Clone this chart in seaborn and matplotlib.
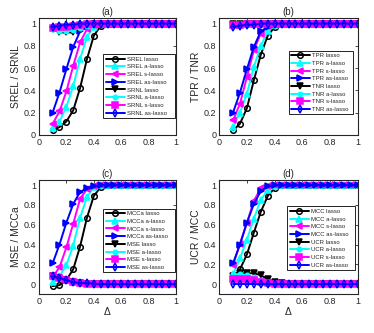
import numpy as np
import pandas as pd
import matplotlib
matplotlib.use("Agg")
import matplotlib.pyplot as plt
import seaborn as sns

# -----------------------------
# DATA
# -----------------------------
delta = [0.1, 0.15, 0.2, 0.25, 0.3, 0.35, 0.4, 0.45, 0.5, 0.55,
         0.6, 0.65, 0.7, 0.75, 0.8, 0.85, 0.9, 0.95, 1.0]
methods = ["lasso", "a-lasso", "s-lasso", "as-lasso"]

def tail(vals):
    # values keep at 1 (or 0) after the listed ones
    return vals + [vals[-1]] * (19 - len(vals))

srel_lasso = tail([0.04, 0.07, 0.12, 0.22, 0.42, 0.68, 0.89, 0.98, 1.0])
srel_alasso = tail([0.06, 0.12, 0.25, 0.44, 0.68, 0.88, 0.97, 1.0])
srel_slasso = tail([0.10, 0.21, 0.39, 0.62, 0.83, 0.95, 0.99, 1.0])
srel_aslasso = tail([0.20, 0.38, 0.59, 0.79, 0.93, 0.98, 1.0])
srnl_lasso = tail([0.95, 0.92, 0.92, 0.92, 0.95, 0.98, 1.0])
srnl_alasso = tail([0.95, 0.93, 0.93, 0.94, 0.96, 0.98, 1.0])
srnl_slasso = tail([0.96, 0.97, 0.97, 0.98, 0.99, 1.0])
srnl_aslasso = tail([0.97, 0.98, 0.99, 0.99, 1.0])

tpr_lasso = tail([0.04, 0.10, 0.24, 0.49, 0.72, 0.89, 0.97, 1.0])
tpr_alasso = tail([0.07, 0.20, 0.37, 0.61, 0.80, 0.93, 0.99, 1.0])
tpr_slasso = tail([0.13, 0.28, 0.52, 0.76, 0.91, 0.98, 1.0])
tpr_aslasso = tail([0.20, 0.38, 0.59, 0.79, 0.93, 0.97, 1.0])
tnr_lasso = tail([1.0])
tnr_alasso = tail([0.99, 0.99, 1.0])
tnr_slasso = tail([0.99, 0.99, 0.995, 1.0])
tnr_aslasso = tail([0.97, 0.98, 0.99, 0.99, 1.0])

mcca_lasso = tail([-0.02, -0.01, 0.04, 0.15, 0.38, 0.67, 0.89, 0.98, 1.0])
mcca_alasso = tail([0.02, 0.08, 0.19, 0.39, 0.67, 0.88, 0.98, 1.0])
mcca_slasso = tail([0.07, 0.17, 0.37, 0.61, 0.86, 0.96, 0.99, 1.0])
mcca_aslasso = tail([0.21, 0.40, 0.62, 0.81, 0.93, 0.97, 0.99, 1.0])
mse_lasso = tail([0.08, 0.06, 0.04, 0.02, 0.01, 0.005, 0.0])
mse_alasso = tail([0.07, 0.06, 0.04, 0.02, 0.01, 0.005, 0.0])
mse_slasso = tail([0.08, 0.06, 0.04, 0.02, 0.01, 0.005, 0.0])
mse_aslasso = tail([0.08, 0.06, 0.04, 0.02, 0.01, 0.01, 0.005, 0.0])

mcc_lasso = tail([0.07, 0.15, 0.30, 0.52, 0.73, 0.89, 0.97, 1.0])
mcc_alasso = tail([0.10, 0.26, 0.45, 0.66, 0.85, 0.95, 0.99, 1.0])
mcc_slasso = tail([0.19, 0.41, 0.62, 0.84, 0.97, 0.99, 1.0])
mcc_aslasso = tail([0.21, 0.40, 0.62, 0.81, 0.94, 0.99, 1.0])
ucr_lasso = tail([0.08, 0.11, 0.11, 0.11, 0.09, 0.05, 0.02, 0.01, 0.0])
ucr_alasso = tail([0.10, 0.10, 0.09, 0.07, 0.04, 0.02, 0.01, 0.0])
ucr_slasso = tail([0.05, 0.05, 0.05, 0.04, 0.02, 0.01, 0.0])
ucr_aslasso = tail([0.0])

panels = [
    ("(a)", "SREL / SRNL", ("SREL", "SRNL"),
     [srel_lasso, srel_alasso, srel_slasso, srel_aslasso],
     [srnl_lasso, srnl_alasso, srnl_slasso, srnl_aslasso]),
    ("(b)", "TPR / TNR", ("TPR", "TNR"),
     [tpr_lasso, tpr_alasso, tpr_slasso, tpr_aslasso],
     [tnr_lasso, tnr_alasso, tnr_slasso, tnr_aslasso]),
    ("(c)", "MSE / MCCa", ("MCCa", "MSE"),
     [mcca_lasso, mcca_alasso, mcca_slasso, mcca_aslasso],
     [mse_lasso, mse_alasso, mse_slasso, mse_aslasso]),
    ("(d)", "UCR / MCC", ("MCC", "UCR"),
     [mcc_lasso, mcc_alasso, mcc_slasso, mcc_aslasso],
     [ucr_lasso, ucr_alasso, ucr_slasso, ucr_aslasso]),
]

# -----------------------------
# STYLE
# -----------------------------
sns.set_style("white")
plt.rcParams["font.family"] = ["Liberation Sans", "DejaVu Sans"]

colors = ["black", "#00FFFF", "#FF00FF", "#0000FF"]
marks1 = ["o", "^", "<", ">"]
marks2 = ["v", ".", "s", "d"]

fig = plt.figure(figsize=(3.74, 3.33), dpi=100)
rects = [
    [0.104, 0.595, 0.367, 0.351],
    [0.586, 0.595, 0.371, 0.351],
    [0.104, 0.117, 0.367, 0.342],
    [0.586, 0.117, 0.371, 0.342],
]
legend_box = [
    (0.47, 0.69, 0.525, 0.0),
    (0.50, 0.72, 0.465, 0.0),
    (0.47, 0.75, 0.525, 0.0),
    (0.49, 0.77, 0.49, 0.0),
]

for k, (title, ylab, names, first, second) in enumerate(panels):
    ax = fig.add_axes(rects[k])
    for i, m in enumerate(methods):
        df = pd.DataFrame({"x": delta, "y": first[i]})
        sns.lineplot(data=df, x="x", y="y", ax=ax, color=colors[i],
                     marker=marks1[i], markersize=4, linewidth=1.4,
                     markerfacecolor=("none" if marks1[i] == "o" else colors[i]),
                     markeredgecolor=colors[i], markeredgewidth=1.1,
                     label=f"{names[0]} {m}")
    for i, m in enumerate(methods):
        df = pd.DataFrame({"x": delta, "y": second[i]})
        sns.lineplot(data=df, x="x", y="y", ax=ax, color=colors[i],
                     marker=marks2[i], markersize=(6.5 if marks2[i] == "." else 4),
                     linewidth=1.4,
                     markerfacecolor=("none" if marks2[i] == "d" else colors[i]),
                     markeredgecolor=colors[i], markeredgewidth=1.1,
                     label=f"{names[1]} {m}")

    ax.set_xlim(0, 1)
    if k < 2:
        ax.set_ylim(0, 1.05)
    else:
        ax.set_ylim(-0.1, 1.05)
    ax.set_xticks([0, 0.2, 0.4, 0.6, 0.8, 1])
    ax.set_xticklabels(["0", "0.2", "0.4", "0.6", "0.8", "1"])
    ax.set_yticks([0, 0.2, 0.4, 0.6, 0.8, 1])
    ax.set_yticklabels(["0", "0.2", "0.4", "0.6", "0.8", "1"])
    ax.tick_params(direction="in", length=2, width=0.6, labelsize=6.5,
                   top=True, right=True, pad=2, colors="#262626")
    for s in ax.spines.values():
        s.set_color("#262626")
        s.set_linewidth(0.8)
    ax.set_title(title, fontsize=7, pad=2)
    ax.set_ylabel(ylab, fontsize=7.5, labelpad=2)
    if k >= 2:
        ax.set_xlabel("\u0394", fontsize=7.5, labelpad=1)
    else:
        ax.set_xlabel("")

    leg = ax.legend(loc="upper left", bbox_to_anchor=legend_box[k],
                    mode="expand", fontsize=4.3, handlelength=3.2,
                    labelspacing=0.42, borderpad=0.4, handletextpad=0.4,
                    borderaxespad=0, fancybox=False, framealpha=1)
    leg.get_frame().set_edgecolor("black")
    leg.get_frame().set_linewidth(0.6)

fig.savefig("out.png", dpi=100)
